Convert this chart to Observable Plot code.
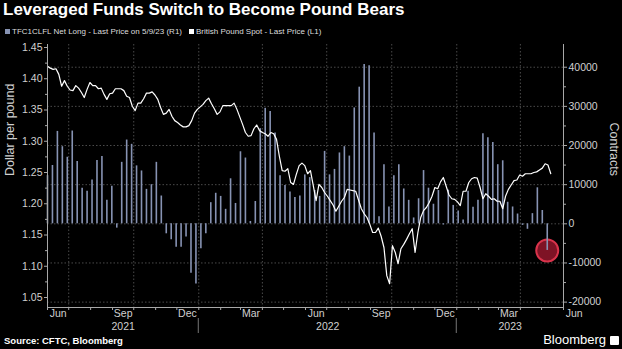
<!DOCTYPE html>
<html><head><meta charset="utf-8">
<script src="https://cdn.jsdelivr.net/npm/d3@7"></script>
<script src="https://cdn.jsdelivr.net/npm/@observablehq/plot@0.6"></script>
<style>
html,body{margin:0;padding:0;background:#000;}
#wrap{position:relative;width:622px;height:349px;overflow:hidden;background:#000;font-family:"Liberation Sans",Arial,sans-serif;}
#chart{position:absolute;left:0;top:0;}
#title{position:absolute;left:3px;top:0px;color:#fff;font-weight:bold;font-size:17px;white-space:nowrap;}
#legend{position:absolute;left:5px;top:27px;color:#ddd;font-size:8px;white-space:nowrap;}
.sw{display:inline-block;width:5px;height:5px;margin-right:2px;vertical-align:0px;}
#source{position:absolute;left:4px;top:335px;color:#fff;font-weight:bold;font-size:9.5px;white-space:nowrap;}
#logo{position:absolute;right:3px;top:332px;color:#fff;font-size:13px;white-space:nowrap;}
#logo .ic{display:inline-block;width:9px;height:9px;background:#fff;border-radius:1px;margin-left:4px;vertical-align:-1px;}
</style></head><body>
<div id="wrap">
  <div id="chart"></div>
  <div id="title">Leveraged Funds Switch to Become Pound Bears</div>
  <div id="legend"></div>
  <div id="source">Source: CFTC, Bloomberg</div>
  <div id="logo">Bloomberg<span class="ic"></span></div>
</div>
<script>
// ---------- data ----------
const seriesNames = ["TFC1CLFL Net Long - Last Price on 5/9/23 (R1)", "British Pound Spot - Last Price (L1)"];
const seriesColors = ["#8793b3", "#ffffff"];
const netLongStart = "2021-06-01";           // weekly CFTC reports
const netLong = [
  12300, 14900, 23600, 19700, 17000, 23700, 15900, 9100, 8300, 11200,
  16200, 17200, 6000, 9600, -1100, 15700, 21400, 20300, 14800, 13500,
  8800, 10000, 15700, 7100, -2550, -4100, -6000, -6000, -3400, -12600,
  -15400, -6400, -2550, 5400, 7800, 7000, 3700, 11500, 5200, 18400,
  16800, 600, 5700, 24300, 29500, 28700, 23200, 12300, 9800, 8100,
  6700, 7100, 12500, 11800, 8500, 7000, 18500, 12500, 13900, 18100,
  19700, 17300, 29600, 34900, 40700, 40400, 23200, 1800, 15100, 4300,
  12300, 15100, 8900, 6000, 1500, 6400, 13600, 9100, 5000, 8500,
  -300, 8600, 4700, 3300, 1000, 8300, 4200, 6000, 23000, 22000,
  20800, 15100, 16100, 5500, 4300, 2500, -400, -1400, 2600, 9200,
  3400, -6800
];
const poundStart = "2021-06-01";             // one reading every 4 days
const poundStepDays = 4;
const poundSpot = [
  1.420,1.417,1.415,1.416,1.407,1.388,1.397,1.388,1.382,1.381,
  1.389,1.385,1.378,1.370,1.383,1.394,1.389,1.389,1.384,1.385,
  1.375,1.367,1.376,1.377,1.384,1.384,1.384,1.381,1.372,1.370,
  1.356,1.349,1.361,1.361,1.368,1.377,1.377,1.379,1.374,1.367,
  1.354,1.343,1.345,1.351,1.340,1.333,1.330,1.326,1.323,1.323,
  1.325,1.333,1.345,1.351,1.355,1.359,1.365,1.369,1.360,1.352,
  1.343,1.347,1.357,1.357,1.357,1.357,1.361,1.351,1.339,1.327,
  1.314,1.308,1.309,1.320,1.326,1.317,1.314,1.312,1.308,1.314,
  1.312,1.303,1.276,1.253,1.252,1.256,1.234,1.231,1.247,1.261,
  1.265,1.261,1.248,1.253,1.229,1.205,1.231,1.226,1.218,1.212,
  1.205,1.198,1.188,1.196,1.204,1.210,1.223,1.222,1.221,1.220,
  1.206,1.192,1.184,1.178,1.167,1.154,1.154,1.161,1.148,1.130,
  1.085,1.072,1.133,1.122,1.104,1.128,1.135,1.143,1.152,1.160,
  1.122,1.154,1.178,1.189,1.194,1.202,1.212,1.226,1.224,1.235,
  1.242,1.228,1.214,1.208,1.207,1.203,1.197,1.220,1.220,1.234,
  1.240,1.242,1.241,1.226,1.208,1.216,1.212,1.207,1.208,1.204,
  1.204,1.192,1.212,1.223,1.230,1.237,1.238,1.246,1.244,1.248,
  1.248,1.248,1.250,1.251,1.254,1.257,1.264,1.262,1.248
];
const xDomain = ["2021-06-01", "2023-06-01"];
const leftTicks = [1.05, 1.10, 1.15, 1.20, 1.25, 1.30, 1.35, 1.40, 1.45];
const rightTicks = [-20000, -10000, 0, 10000, 20000, 30000, 40000];
const yearLabels = ["2021", "2022", "2023"];
const leftTitle = "Dollar per pound";
const rightTitle = "Contracts";

// ---------- build ----------
const parse = d3.utcParse("%Y-%m-%d");
const X0 = parse(xDomain[0]), X1 = parse(xDomain[1]);
const bars = netLong.map((c, i) => ({date: d3.utcWeek.offset(parse(netLongStart), i), c}));
const pound = poundSpot.map((v, i) => ({date: d3.utcDay.offset(parse(poundStart), i * poundStepDays), v}));

// right (contracts) axis aligned onto the left (pound) scale
const yDomain = [1.034, 1.4548];
const zeroLevel = 1.1679, perContract = 6.264e-6;
const toLeft = c => zeroLevel + c * perContract;
const fromLeft = v => Math.round((v - zeroLevel) / perContract / 1000) * 1000;

const leftMinor = leftTicks.slice(0, -1).map(t => t + 0.025);
const rightMinor = rightTicks.slice(0, -1).map(t => t + 5000);
const monthTicks = d3.utcMonth.range(X0, d3.utcDay.offset(X1, 1));
const labelMonths = monthTicks.filter(d => (d.getUTCMonth() + 1) % 3 === 0).map(d => d3.utcDay.offset(d, 15));
const quarterGrid = d3.utcMonth.every(3).range(d3.utcDay.offset(X0, 1), X1);
const yearBounds = yearLabels.slice(1).map(y => parse(y + "-01-01"));
const yearMid = yearLabels.map(y => {
  const a = Math.max(+parse(y + "-01-01"), +X0), b = Math.min(+parse((+y + 1) + "-01-01"), +X1);
  return {date: new Date((a + b) / 2), label: y};
});
const axisColor = "#a8a8a8", gridColor = "#4a4a4a", textColor = "#d0d0d0";

const plot = Plot.plot({
  width: 622, height: 349,
  marginTop: 44, marginBottom: 42, marginLeft: 47, marginRight: 59,
  style: {background: "transparent", color: textColor, fontFamily: "Liberation Sans, Arial, sans-serif", fontSize: "10.5px"},
  x: {type: "utc", domain: [X0, X1]},
  y: {domain: yDomain},
  marks: [
    Plot.ruleY(rightTicks, {y: d => toLeft(d), stroke: gridColor, strokeDasharray: "1.5,2"}),
    Plot.ruleX(quarterGrid, {x: d => d, stroke: gridColor, strokeDasharray: "1.5,2"}),
    Plot.dot(bars.slice(-1), {x: "date", y: d => toLeft(d.c), r: 11, fill: "#7e1325", stroke: "#d9334b", strokeWidth: 2}),
    Plot.ruleX(bars, {x: "date", y1: () => zeroLevel, y2: d => toLeft(d.c), stroke: seriesColors[0], strokeWidth: 1.6}),
    Plot.line(pound, {x: "date", y: "v", stroke: seriesColors[1], strokeWidth: 1.2}),
    // axis lines
    Plot.ruleX([X0, X1], {x: d => d, stroke: axisColor}),
    Plot.ruleY([yDomain[0]], {y: d => d, stroke: axisColor}),
    // left axis
    Plot.axisY(leftTicks, {anchor: "left", tickSize: 3, tickPadding: 2, tickFormat: d3.format(".2f"), label: null, stroke: axisColor}),
    Plot.axisY(leftMinor, {anchor: "left", tickSize: 2, tickFormat: () => "", label: null, stroke: axisColor}),
    // right axis
    Plot.axisY(rightTicks.map(toLeft), {anchor: "right", tickSize: 3, tickPadding: 2, tickFormat: v => String(fromLeft(v)), label: null, stroke: axisColor}),
    Plot.axisY(rightMinor.map(toLeft), {anchor: "right", tickSize: 2, tickFormat: () => "", label: null, stroke: axisColor}),
    // x axis
    Plot.axisX(monthTicks, {tickSize: 3, tickFormat: () => "", label: null, stroke: axisColor}),
    Plot.axisX(labelMonths, {tickSize: 0, tickPadding: 2, tickFormat: d3.utcFormat("%b"), label: null}),
    Plot.text(yearMid, {x: "date", text: "label", frameAnchor: "bottom", dy: 19, lineAnchor: "middle", fill: textColor}),
    // axis titles
    Plot.text([leftTitle], {frameAnchor: "left", dx: -38, rotate: -90, fontSize: 12.5, fill: textColor}),
    Plot.text([rightTitle], {frameAnchor: "right", dx: 50, rotate: 90, fontSize: 12.5, fill: textColor})
  ]
});
document.getElementById("chart").appendChild(plot);

// year separators below the month labels, positioned with the plot's x scale
const xs = plot.scale("x");
const svg = d3.select(plot);
yearBounds.forEach(d => {
  const px = xs.apply(d);
  svg.append("line").attr("x1", px).attr("x2", px).attr("y1", 318).attr("y2", 333)
    .attr("stroke", "#777").attr("stroke-width", 1);
});

// legend
const leg = document.getElementById("legend");
seriesNames.forEach((n, i) => {
  const s = document.createElement("span");
  s.style.marginRight = "7px";
  s.innerHTML = `<span class="sw" style="background:${i === 0 ? seriesColors[0] : "#fff"}"></span>${n}`;
  leg.appendChild(s);
});
</script>
</body></html>
